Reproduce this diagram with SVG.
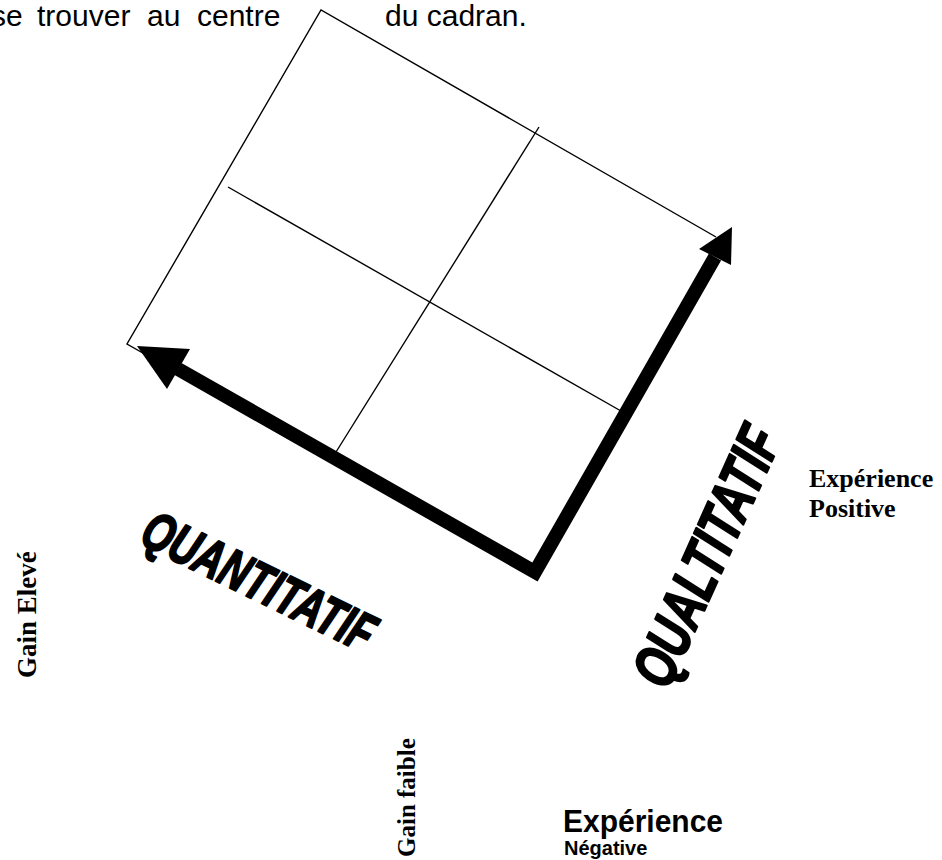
<svg xmlns="http://www.w3.org/2000/svg" width="942" height="860" viewBox="0 0 942 860">
  <style>
    .thin { fill: none; stroke: #000; stroke-width: 1.4; }
    .shaft { fill: none; stroke: #000; stroke-linejoin: miter; stroke-linecap: butt; }
    .head { fill: #000; }
    .sans { font-family: "Liberation Sans", Arial, sans-serif; fill: #000; }
    .serif { font-family: "Liberation Serif", "Times New Roman", serif; font-weight: bold; fill: #000; }
    .art { font-family: "Liberation Sans", Arial, sans-serif; font-weight: bold; font-style: italic; fill: #000; stroke: #000; stroke-width: 2.2; stroke-linejoin: round; }
  </style>

  <!-- running text line above the dial -->
  <text class="sans" font-size="30" y="26"><tspan x="-9">se</tspan><tspan x="37">trouver</tspan><tspan x="147">au</tspan><tspan x="197">centre</tspan></text>
  <text class="sans" font-size="30" x="385" y="26">du cadran.</text>

  <!-- dial frame and quadrant dividers -->
  <g id="frame">
    <polyline class="thin" points="716,237 321,10 127,344 535,575"/>
  </g>
  <g id="dividers">
    <line class="thin" x1="539" y1="127" x2="336" y2="452"/>
    <line class="thin" x1="228" y1="187" x2="628" y2="415"/>
  </g>

  <!-- the two axes -->
  <g id="connectors">
    <polyline class="shaft" stroke-width="14" points="178,369 535,572 715,257"/>
    <polygon class="head" points="137,346 190,349 167,389"/>
    <polygon class="head" points="732,227 699,249 731,265"/>
  </g>

  <g id="axis-quantitatif">
    <text class="art" font-size="54" text-anchor="middle" textLength="252" lengthAdjust="spacingAndGlyphs" transform="translate(259,581) rotate(26)" y="19">QUANTITATIF</text>
  </g>
  <g id="axis-qualitatif">
    <text class="art" font-size="60" text-anchor="middle" textLength="278" lengthAdjust="spacingAndGlyphs" transform="translate(706,556) rotate(-65.7)" y="21">QUALTITATIF</text>
  </g>

  <g id="label-positive">
    <text class="serif" font-size="26" x="809" y="487">Expérience</text>
    <text class="serif" font-size="26" x="809" y="517">Positive</text>
  </g>
  <g id="label-gain-eleve">
    <text class="serif" font-size="27" transform="translate(36,678) rotate(-90)">Gain Elevé</text>
  </g>
  <g id="label-gain-faible">
    <text class="serif" font-size="25" transform="translate(415,857) rotate(-90)">Gain faible</text>
  </g>
  <g id="label-negative">
    <text class="sans" font-weight="bold" font-size="31" x="563" y="832" textLength="160" lengthAdjust="spacingAndGlyphs">Expérience</text>
    <text class="sans" font-weight="bold" font-size="20" x="564" y="855">Négative</text>
  </g>
</svg>
